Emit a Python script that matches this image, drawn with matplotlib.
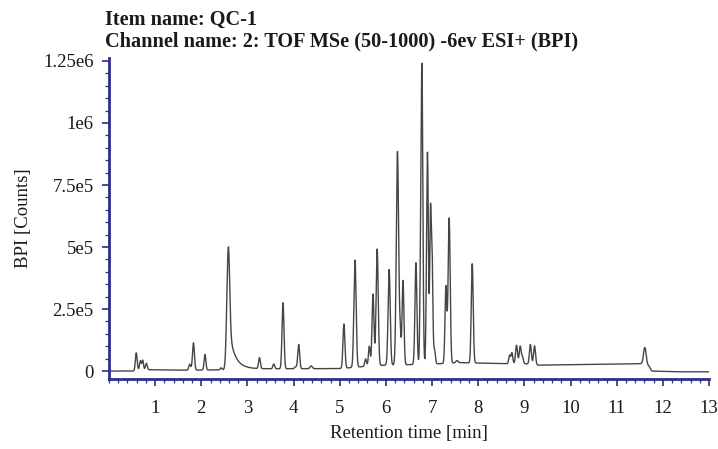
import numpy as np
import matplotlib
matplotlib.use("Agg")
import matplotlib.pyplot as plt
from matplotlib.ticker import MultipleLocator

plt.rcParams['font.family'] = ['Liberation Serif', 'DejaVu Serif']

# ---- data ----
title_line1 = "Item name: QC-1"
title_line2 = "Channel name: 2: TOF MSe (50-1000) -6ev ESI+ (BPI)"

peak_times = [0.59, 0.68, 0.73, 0.81, 1.75, 1.83, 2.08, 2.43, 2.58,
              3.26, 3.57, 3.77, 4.04, 4.11, 4.38, 5.09, 5.33, 5.56, 5.64,
              5.72, 5.81, 6.07, 6.25, 6.31, 6.37, 6.65, 6.745, 6.78, 6.90,
              6.965, 7.00, 7.05, 7.30, 7.37, 7.54, 7.87, 8.68, 8.73, 8.83,
              8.91, 8.96, 9.13, 9.22, 11.61]
peak_heights = [70e3, 36e3, 38e3, 26e3, 24e3, 110e3, 63e3, 8e3, 432e3,
                44e3, 19e3, 266e3, 8e3, 98e3, 11e3, 178e3, 432e3, 30e3, 80e3,
                290e3, 470e3, 385e3, 860e3, 120e3, 340e3, 410e3, 200e3, 1200e3, 855e3,
                600e3, 420e3, 60e3, 310e3, 585e3, 9e3, 400e3, 34e3, 44e3, 74e3,
                70e3, 26e3, 80e3, 76e3, 66e3]
peak_widths = [0.019, 0.017, 0.017, 0.019, 0.021, 0.021, 0.019, 0.019, 0.030,
               0.019, 0.019, 0.021, 0.019, 0.021, 0.024, 0.021, 0.024, 0.019, 0.019,
               0.021, 0.023, 0.023, 0.025, 0.017, 0.020, 0.021, 0.015, 0.020, 0.020,
               0.016, 0.016, 0.020, 0.020, 0.022, 0.024, 0.021, 0.018, 0.018, 0.021,
               0.021, 0.018, 0.021, 0.021, 0.028]

tail_starts = [2.59]
tail_heights = [170e3]
tail_decays = [0.13]

baseline_t = [0.0, 0.55, 0.62, 1.0, 1.6, 2.5, 3.0, 5.0, 5.5, 6.0, 7.0, 7.6, 8.5, 9.0, 9.3, 11.0, 11.6, 11.7, 11.76, 12.3, 13.0]
baseline_v = [0.0, 0.0, 6e3, 5e3, 3e3, 5e3, 9e3, 10e3, 18e3, 24e3, 28e3, 34e3, 30e3, 30e3, 24e3, 28e3, 30e3, 20e3, 0.0, -3e3, -3e3]

x_ticks = list(range(1, 14))
y_ticks = [0, 2.5e5, 5e5, 7.5e5, 1e6, 1.25e6]
y_tick_labels = ["0", "2.5e5", "5e5", "7.5e5", "1e6", "1.25e6"]

# ---- build the trace ----
t = np.linspace(0, 13, 8000)
signal = np.interp(t, baseline_t, baseline_v)
for c, h, s in zip(peak_times, peak_heights, peak_widths):
    signal = signal + h * np.exp(-0.5 * ((t - c) / s) ** 2)
for t0, a, tau in zip(tail_starts, tail_heights, tail_decays):
    onset = 1.0 / (1.0 + np.exp(-(t - t0) / 0.012))
    signal = signal + a * np.exp(-np.clip(t - t0, 0, None) / tau) * onset

# ---- figure ----
fig = plt.figure(figsize=(7.18, 4.49), dpi=100)
ax = fig.add_axes([109/718, 70/449, 600/718, 321/449])
ax.plot(t, signal, color='#454545', lw=1.0)

ax.set_xlim(0, 13)
ax.set_ylim(-32e3, 1.262e6)

spine_col = '#2e2e8c'
for side in ['top', 'right']:
    ax.spines[side].set_visible(False)
for side in ['left', 'bottom']:
    ax.spines[side].set_color(spine_col)
    ax.spines[side].set_linewidth(2.0)

ax.set_xticks(x_ticks)
ax.set_xticklabels([str(v) for v in x_ticks])
ax.set_yticks(y_ticks)
ax.set_yticklabels(y_tick_labels)
ax.xaxis.set_minor_locator(MultipleLocator(0.2))
ax.yaxis.set_minor_locator(MultipleLocator(5e4))
ax.tick_params(axis='both', which='major', direction='out', length=5, width=1.2,
               color=spine_col, labelsize=13.5, labelcolor='#1a1a1a')
ax.tick_params(axis='both', which='minor', direction='out', length=3, width=0.9,
               color=spine_col)
ax.tick_params(axis='x', which='major', pad=10)
ax.tick_params(axis='y', which='major', pad=6)

ax.set_xlabel("Retention time [min]", fontsize=13.5, color='#1a1a1a', labelpad=6)
ax.set_ylabel("BPI [Counts]", fontsize=13.5, color='#1a1a1a', labelpad=8)

fig.text(105/718, 1 - 10/449, title_line1, fontsize=14.6, fontweight='bold',
         va='top', ha='left', color='#1a1a1a')
fig.text(105/718, 1 - 31/449, title_line2, fontsize=14.6, fontweight='bold',
         va='top', ha='left', color='#1a1a1a')

fig.savefig("out.png", dpi=100)
